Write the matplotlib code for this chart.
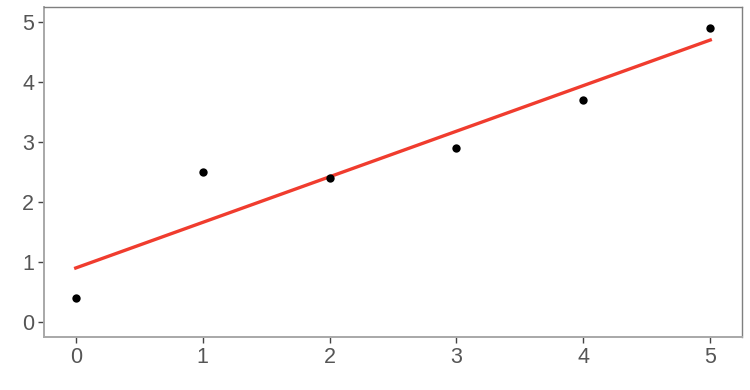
import numpy as np
import matplotlib
matplotlib.use('Agg')
import matplotlib.pyplot as plt

plt.rcParams['font.family'] = ['Liberation Sans', 'DejaVu Sans']

x_vals = [0, 1, 2, 3, 4, 5]
y_vals = [0.4, 2.5, 2.4, 2.9, 3.7, 4.9]

# least squares fit, drawn across the data range
slope, intercept = np.polyfit(x_vals, y_vals, 1)
fit_x = np.array([min(x_vals), max(x_vals)])
fit_y = intercept + slope * fit_x

fig = plt.figure(figsize=(7.5, 3.9), dpi=100)
ax = fig.add_axes([44 / 750, 1 - 337 / 390, (742 - 44) / 750, (337 - 7) / 390])

ax.plot(fit_x, fit_y, color='#f03c2e', linewidth=2.4, zorder=2)
ax.scatter(x_vals, y_vals, s=36, color='black', zorder=3, linewidths=0)

ax.set_xlim(-0.25, 5.25)
ax.set_ylim(-0.25, 5.25)
ax.set_xticks(range(6))
ax.set_yticks(range(6))

for side in ['top', 'right']:
    ax.spines[side].set_color('#7f7f7f')
    ax.spines[side].set_linewidth(1.0)
for side in ['left', 'bottom']:
    ax.spines[side].set_color('#a8a8a8')
    ax.spines[side].set_linewidth(1.4)

ax.tick_params(axis='both', length=4, width=1, color='#444444',
               labelsize=15.5, labelcolor='#555555', pad=3)

fig.savefig('out.png', dpi=100)
